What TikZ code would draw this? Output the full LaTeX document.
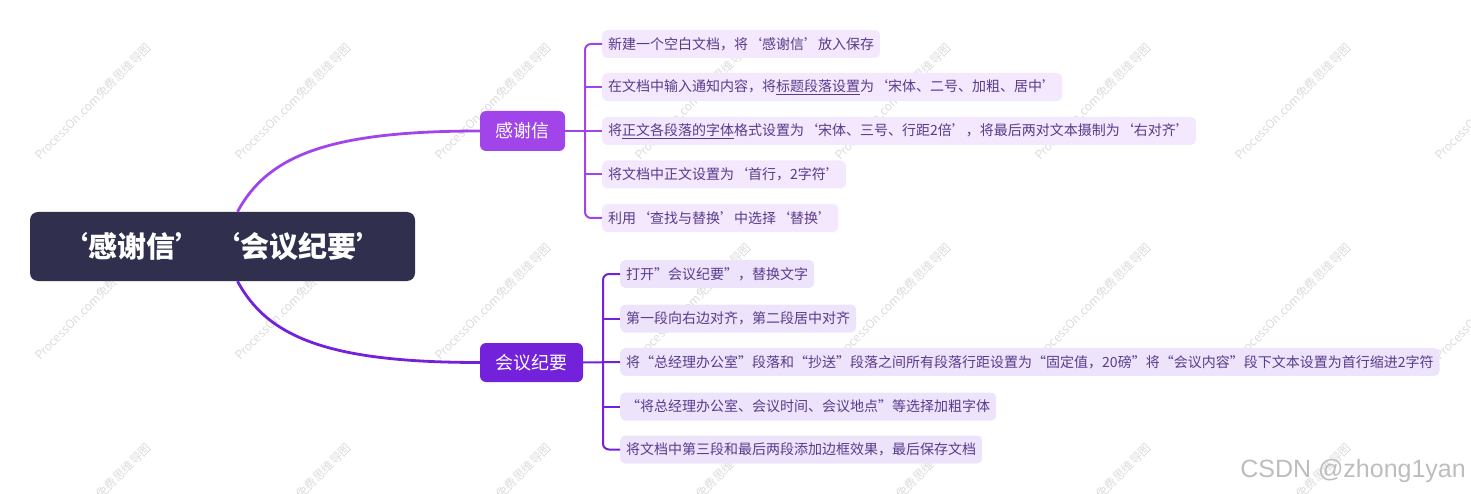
\documentclass[tikz,border=0pt]{standalone}
\usepackage{fontspec}
\setmainfont{Noto Sans CJK SC}
\newfontfamily\csdnfont{Liberation Sans}
\usetikzlibrary{calc}
\definecolor{rootc}{HTML}{30304E}
\definecolor{bA}{HTML}{A145EA}
\definecolor{bB}{HTML}{7321DB}
\definecolor{leafA}{HTML}{F3E8FD}
\definecolor{leafB}{HTML}{EDE4FC}
\definecolor{leaftxt}{HTML}{5A3A8A}
\definecolor{wm}{HTML}{DCDCDC}
\definecolor{csdn}{HTML}{BDBDBD}
\begin{document}
\begin{tikzpicture}[x=1pt,y=-1pt,
  rootbox/.style={fill=rootc, rounded corners=8pt, minimum width=385pt, minimum height=69pt,
    text=white, font=\fontsize{29}{34}\selectfont\bfseries, inner sep=0pt},
  branchbox/.style={rounded corners=6pt, minimum height=40pt, inner sep=0pt, text=white,
    font=\fontsize{18}{22}\selectfont},
  leafbox/.style={rounded corners=5pt, minimum height=28pt, inner xsep=6pt, inner ysep=0pt,
    text=leaftxt, font=\fontsize{14}{17}\selectfont, anchor=west},
  leafa/.style={leafbox, fill=leafA},
  leafb/.style={leafbox, fill=leafB},
  maincurve/.style={line width=2.8pt},
  leafline/.style={line width=2pt},
  wmtext/.style={text=wm, font=\fontsize{12}{14}\selectfont, rotate=45, anchor=base west, inner sep=0pt}
]
\useasboundingbox (0,0) rectangle (1471,494);
\begin{scope}
\clip (0,0) rectangle (1471,494);
\foreach \i in {0,...,7}{
  \foreach \j in {0,1,2}{
    \node[wmtext] (wm\i\j) at (40+200*\i,161+200*\j) {ProcessOn.com免费思维导图};
  }
}
\end{scope}

% root and branches
\node[rootbox] (root) at (222.5,246.5) {‘感谢信’ ‘会议纪要’};
\node[branchbox, fill=bA, minimum width=85pt] (kA) at (522.5,131) {感谢信};
\node[branchbox, fill=bB, minimum width=103pt, minimum height=39pt] (kB) at (531.5,362.5) {会议纪要};

% leaves of branch A
\node[leafa] (a1) at (602,44) {新建一个空白文档，将‘感谢信’放入保存};
\node[leafa] (a2) at (602,87) {在文档中输入通知内容，将\underline{标题段落设置}为‘宋体、二号、加粗、居中’};
\node[leafa] (a3) at (602,131) {将\underline{正文各段落的字体}格式设置为‘宋体、三号、行距2倍’，将最后两对文本摄制为‘右对齐’};
\node[leafa] (a4) at (602,174.5) {将文档中正文设置为‘首行，2字符’};
\node[leafa] (a5) at (602,218) {利用‘查找与替换’中选择‘替换’};

% leaves of branch B
\node[leafb] (b1) at (620,274) {打开”会议纪要”，替换文字};
\node[leafb] (b2) at (620,318.5) {第一段向右边对齐，第二段居中对齐};
\node[leafb] (b3) at (620,362) {将“总经理办公室”段落和“抄送”段落之间所有段落行距设置为“固定值，20磅”将“会议内容”段下文本设置为首行缩进2字符};
\node[leafb] (b4) at (620,406.5) {“将总经理办公室、会议时间、会议地点”等选择加粗字体};
\node[leafb] (b5) at (620,449.5) {将文档中第三段和最后两段添加边框效果，最后保存文档};

% main curves
\coordinate (rtA) at ($(root.north)+(15,0)$);
\coordinate (rtB) at ($(root.south)+(15,0)$);
\draw[maincurve, bA] (rtA) .. controls (268,155) and (330,131) .. (kA.west);
\draw[maincurve, bB] (rtB) .. controls (268,338) and (330,362.5) .. (kB.west);

% connectors branch A
\coordinate (va) at (585,131);
\draw[leafline, bA] (kA.east) -- (a3.west);
\draw[leafline, bA, rounded corners=6pt] (a1.west) -- (a1.west -| va) -- (a5.west -| va) -- (a5.west);
\draw[leafline, bA] (a2.west -| va) -- (a2.west);
\draw[leafline, bA] (a4.west -| va) -- (a4.west);

% connectors branch B
\coordinate (vb) at (603,362);
\draw[leafline, bB] (kB.east) -- (b3.west);
\draw[leafline, bB, rounded corners=6pt] (b1.west) -- (b1.west -| vb) -- (b5.west -| vb) -- (b5.west);
\draw[leafline, bB] (b2.west -| vb) -- (b2.west);
\draw[leafline, bB] (b4.west -| vb) -- (b4.west);

\node[text=csdn, font=\csdnfont\fontsize{25}{30}\selectfont, anchor=base east, inner sep=0pt] (csdn) at (1466,477) {CSDN @zhong1yan};
\end{tikzpicture}
\end{document}
